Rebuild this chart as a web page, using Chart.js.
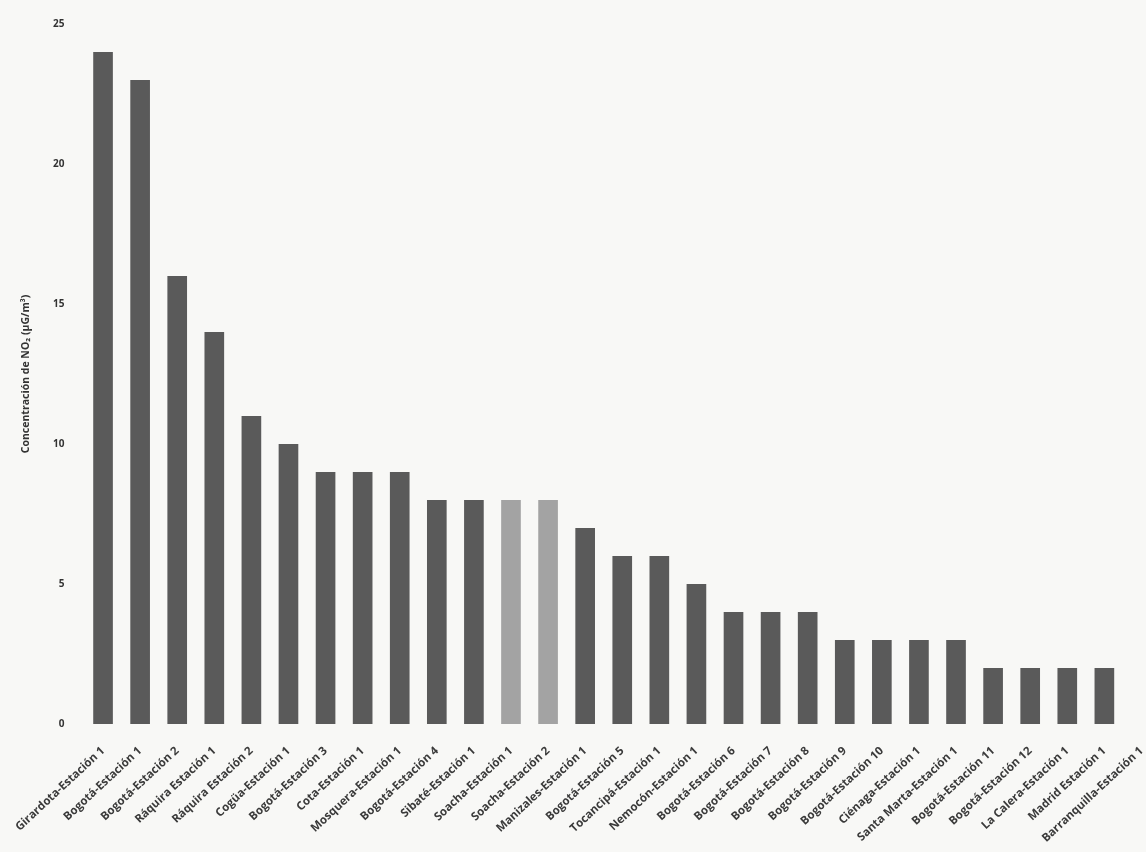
<!DOCTYPE html>
<html>
<head>
<meta charset="utf-8">
<script src="https://cdn.jsdelivr.net/npm/chart.js@4.4.1/dist/chart.umd.min.js"></script>
<style>
    html, body { margin: 0; padding: 0; overflow: hidden; background: #f8f8f6; }
    #wrap { width: 1166px; height: 852px; }
</style>
</head>
<body>
<div id="wrap"><canvas id="no2Chart"></canvas></div>
<script>
// estaciones de monitoreo, ordenadas de mayor a menor
var estaciones = [
    "Girardota-Estación 1", "Bogotá-Estación 1", "Bogotá-Estación 2", "Ráquira Estación 1",
    "Ráquira Estación 2", "Cogüa-Estación 1", "Bogotá-Estación 3", "Cota-Estación 1",
    "Mosquera-Estación 1", "Bogotá-Estación 4", "Sibaté-Estación 1", "Soacha-Estación 1",
    "Soacha-Estación 2", "Manizales-Estación 1", "Bogotá-Estación 5", "Tocancipá-Estación 1",
    "Nemocón-Estación 1", "Bogotá-Estación 6", "Bogotá-Estación 7", "Bogotá-Estación 8",
    "Bogotá-Estación 9", "Bogotá-Estación 10", "Ciénaga-Estación 1", "Santa Marta-Estación 1",
    "Bogotá-Estación 11", "Bogotá-Estación 12", "La Calera-Estación 1", "Madrid Estación 1",
    "Barranquilla-Estación 1"
];
var concentracion = [24, 23, 16, 14, 11, 10, 9, 9, 9, 8, 8, 8, 8, 7, 6, 6, 5, 4, 4, 4, 3, 3, 3, 3, 2, 2, 2, 2, 0];
var yTicks = [0, 5, 10, 15, 20, 25];

var colores = estaciones.map(function (e) {
    return e.indexOf("Soacha") === 0 ? "#a3a3a3" : "#5a5a5a";
});

var ctx = document.getElementById("no2Chart").getContext("2d");
var chart = new Chart(ctx, {
    type: 'bar',
    data: {
        labels: estaciones,
        datasets: [{
            data: concentracion,
            backgroundColor: colores,
            barPercentage: 0.53,
            categoryPercentage: 1.0
        }]
    },
    options: {
        responsive: true,
        maintainAspectRatio: false,
        animation: false,
        layout: { padding: { top: 24, right: 6, bottom: 0, left: 0 } },
        plugins: { legend: { display: false }, tooltip: { enabled: false } },
        scales: {
            x: {
                grid: { display: false },
                border: { display: false },
                ticks: {
                    minRotation: 43,
                    maxRotation: 43,
                    autoSkip: false,
                    padding: 12,
                    color: '#3a3a3a',
                    font: { family: 'Open Sans', size: 11.5, weight: 'bold' }
                },
                afterFit: function (scale) { scale.height = 128; }
            },
            y: {
                min: 0,
                max: 25,
                grid: { display: false },
                border: { display: false },
                afterBuildTicks: function (scale) {
                    scale.ticks = yTicks.map(function (v) { return { value: v }; });
                },
                ticks: {
                    padding: 12,
                    color: '#333',
                    font: { family: 'Open Sans', size: 10, weight: 'bold' }
                },
                title: {
                    display: true,
                    text: 'Concentración de NO₂ (µG/m³)',
                    color: '#333',
                    padding: { top: 20, bottom: 0 },
                    font: { family: 'Open Sans', size: 10.5, weight: 'bold' }
                },
                afterFit: function (scale) { scale.width = 84.5; }
            }
        }
    }
});
</script>
</body>
</html>
